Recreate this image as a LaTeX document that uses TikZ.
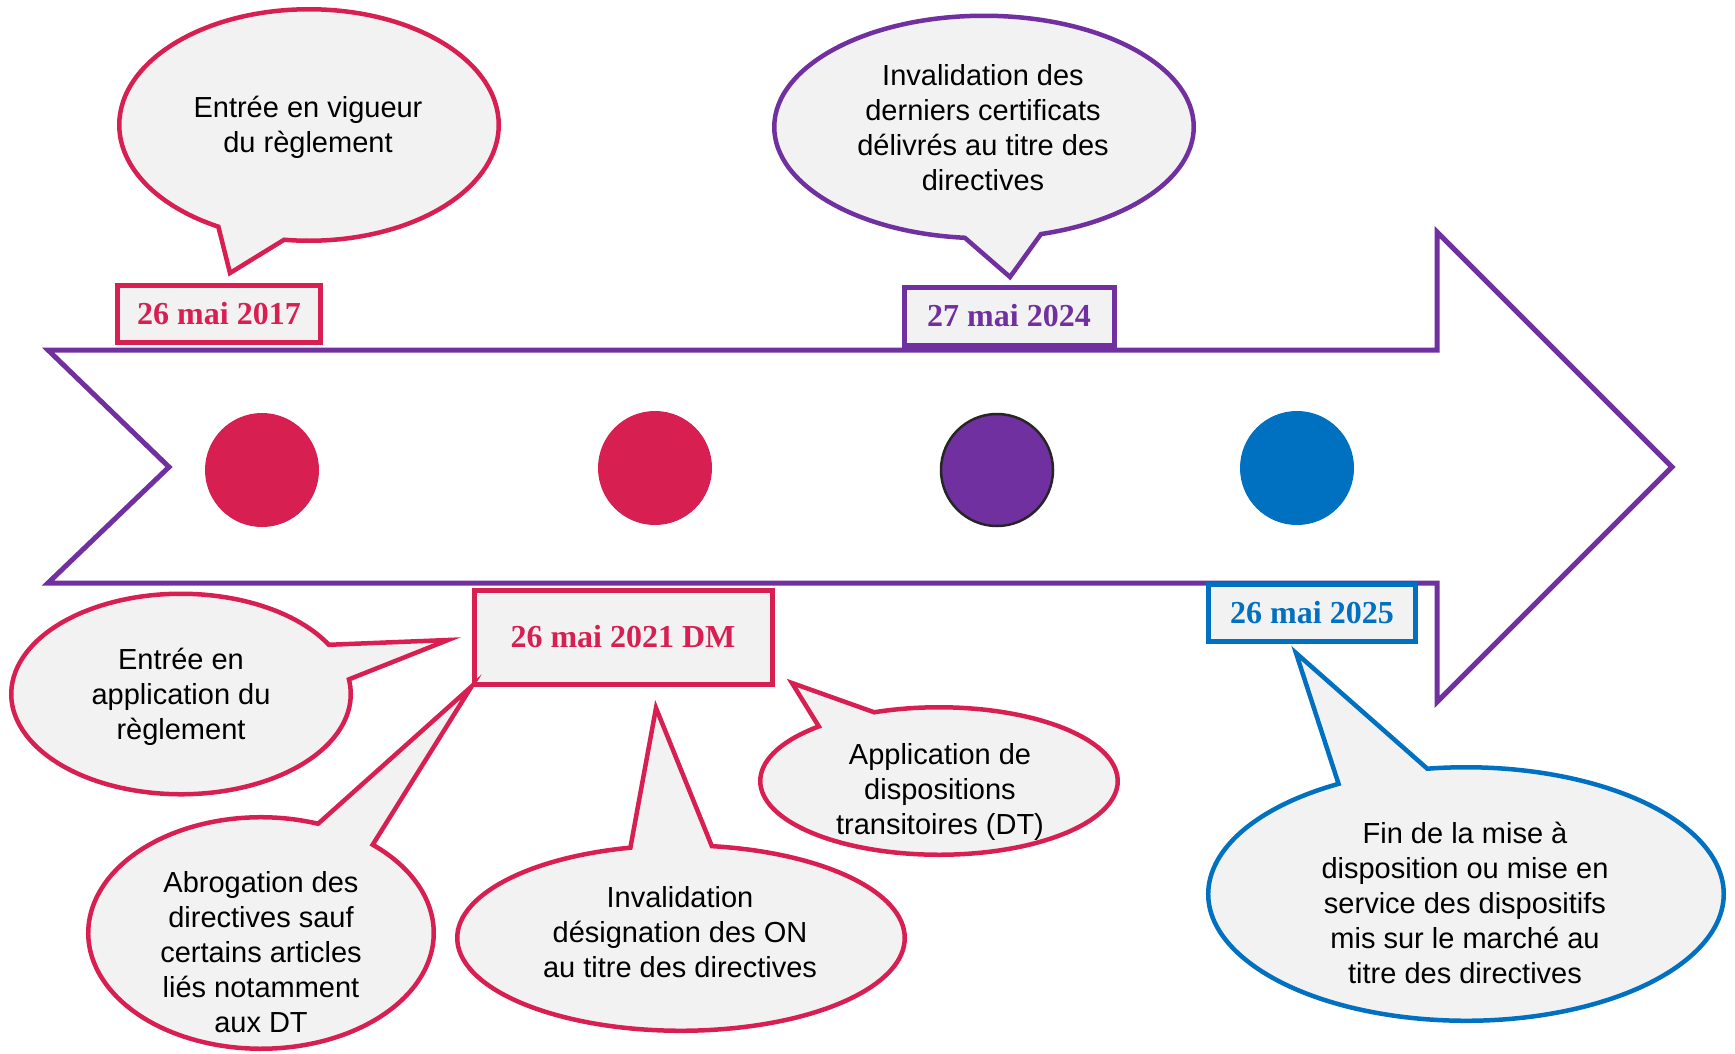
\documentclass[tikz,border=0pt]{standalone}
\usepackage{fontspec}
\setmainfont{Liberation Sans}
\newfontfamily\datefont{Liberation Serif}
\usepackage{tikz}
\usepackage{xcolor}
\definecolor{rouge}{RGB}{216,31,82}
\definecolor{mauve}{RGB}{112,48,160}
\definecolor{bleu}{RGB}{0,112,192}
\definecolor{fond}{RGB}{242,242,242}
\definecolor{contour}{RGB}{38,38,38}
\tikzset{bubble/.style={ellipse callout,draw=#1,fill=fond,line width=4.5pt,inner sep=0pt,
  callout pointer arc=21},
 bubtext/.style={align=center,font=\fontsize{29}{35}\selectfont},
 datebox/.style={draw=#1,fill=fond,line width=5pt,text=#1,inner sep=0pt,
  font=\datefont\bfseries\fontsize{32}{38}\selectfont},
 dot/.style={circle,fill=#1,minimum size=114pt,inner sep=0pt},
 }
\usetikzlibrary{shapes.callouts}

\begin{document}
\begin{tikzpicture}[x=1pt,y=-1pt,line join=miter]
        \useasboundingbox (0,0) rectangle (1735,1053);
        % time arrow
        \draw[mauve, line width=5pt, fill=white] (48,350) -- (1437,350) -- (1437,232) -- (1672,467)
            -- (1437,702) -- (1437,583) -- (48,583) -- (169,467) -- cycle;
        \node[dot=rouge] (c1) at (262,470) {};
        \node[dot=rouge] (c2) at (655,468) {};
        \node[dot=mauve, draw=contour, line width=2.5pt, minimum size=112pt] (c3) at (997,470) {};
        \node[dot=bleu] (c4) at (1297,468) {};
        % dates
        \node[datebox=rouge, minimum width=203pt, minimum height=57pt] (d17) at (219,314) {26 mai 2017};
        \node[datebox=mauve, minimum width=210pt, minimum height=58pt] (d24) at (1009,316) {27 mai 2024\hspace{8pt}};
        \node[datebox=rouge, minimum width=298pt, minimum height=94pt] (d21) at (623,637) {26 mai 2021 DM};
        \node[datebox=bleu, minimum width=207pt, minimum height=57pt] (d25) at (1312,613) {26 mai 2025\hspace{6pt}};
        % bubbles
        \node[bubble=rouge, minimum width=379.5pt, minimum height=231.5pt,
            callout absolute pointer={(230,273)}] (b1) at (309,125) {};
        \node[bubble=mauve, minimum width=419.5pt, minimum height=222.5pt,
            callout absolute pointer={(1010,277)}] (b2) at (984,127) {};
        \node[bubble=rouge, minimum width=339.5pt, minimum height=200.5pt,
            callout absolute pointer={(448,640)}] (b3) at (181,694) {};
        \node[bubble=rouge, minimum width=345.5pt, minimum height=231.5pt,
            callout absolute pointer={(d21.south west)}] (b4) at (261,933) {};
        \node[bubble=rouge, minimum width=447.5pt, minimum height=185.5pt,
            callout absolute pointer={(656,708)}] (b5) at (681,938) {};
        \node[bubble=rouge, minimum width=357.5pt, minimum height=147.5pt,
            callout absolute pointer={(792,683)}] (b6) at (939,781) {};
        \node[bubble=bleu, minimum width=515.5pt, minimum height=253.5pt,
            callout absolute pointer={(1296,653)}] (b7) at (1466,894) {};
        \node[bubtext] (t1) at (308,127) {Entrée en vigueur\\du règlement};
        \node[bubtext] (t2) at (983,128) {Invalidation des\\derniers certificats\\délivrés au titre des\\directives};
        \node[bubtext] (t3) at (181,697) {Entrée en\\application du\\règlement};
        \node[bubtext] (t4) at (261,952) {Abrogation des\\directives sauf\\certains articles\\liés notamment\\aux DT};
        \node[bubtext] (t5) at (680,932) {Invalidation\\désignation des ON\\au titre des directives};
        \node[bubtext] (t6) at (940,792) {Application de\\dispositions\\transitoires (DT)};
        \node[bubtext] (t7) at (1465,903) {Fin de la mise à\\disposition ou mise en\\service des dispositifs\\mis sur le marché au\\titre des directives};
    \end{tikzpicture}
\end{document}
